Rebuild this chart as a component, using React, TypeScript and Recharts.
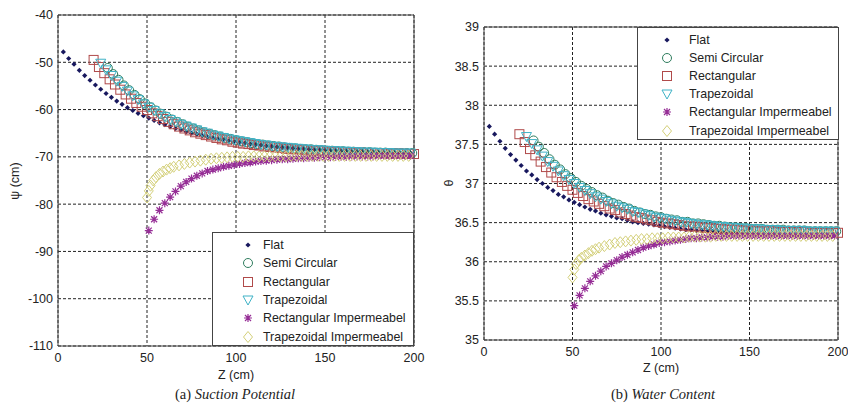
import React from "react";
import {
  CartesianGrid,
  ReferenceArea,
  Scatter,
  ScatterChart,
  XAxis,
  YAxis,
} from "recharts";

// Z positions (cm) of the points of every series
const flatZ = [
  3, 6, 9, 12, 15, 18, 21, 24, 27, 30, 33, 36, 39, 42, 45, 48, 51, 54, 57, 60,
  63, 66, 69, 72, 75, 78, 81, 84, 87, 90, 93, 96, 99, 102, 105, 108, 111, 114,
  117, 120, 123, 126, 129, 132, 135, 138, 141, 144, 147, 150, 153, 156, 159,
  162, 165, 168, 171, 174, 177, 180, 183, 186, 189, 192, 195, 198,
];
const semiZ = [
  28, 31, 34, 37, 40, 43, 46, 49, 52, 55, 58, 61, 64, 67, 70, 73, 76, 79, 82,
  85, 88, 91, 94, 97, 100, 103, 106, 109, 112, 115, 118, 121, 124, 127, 130,
  133, 136, 139, 142, 145, 148, 151, 154, 157, 160, 163, 166, 169, 172, 175,
  178, 181, 184, 187, 190, 193, 196, 199,
];
const rectZ = [
  20, 23, 26, 29, 32, 35, 38, 41, 44, 47, 50, 53, 56, 59, 62, 65, 68, 71, 74,
  77, 80, 83, 86, 89, 92, 95, 98, 101, 104, 107, 110, 113, 116, 119, 122, 125,
  128, 131, 134, 137, 140, 143, 146, 149, 152, 155, 158, 161, 164, 167, 170,
  173, 176, 179, 182, 185, 188, 191, 194, 197, 200,
];
const trapZ = [
  24, 27, 30, 33, 36, 39, 42, 45, 48, 51, 54, 57, 60, 63, 66, 69, 72, 75, 78,
  81, 84, 87, 90, 93, 96, 99, 102, 105, 108, 111, 114, 117, 120, 123, 126, 129,
  132, 135, 138, 141, 144, 147, 150, 153, 156, 159, 162, 165, 168, 171, 174,
  177, 180, 183, 186, 189, 192, 195, 198,
];
const rectImpZ = [
  51, 54, 57, 60, 63, 66, 69, 72, 75, 78, 81, 84, 87, 90, 93, 96, 99, 102, 105,
  108, 111, 114, 117, 120, 123, 126, 129, 132, 135, 138, 141, 144, 147, 150,
  153, 156, 159, 162, 165, 168, 171, 174, 177, 180, 183, 186, 189, 192, 195,
  198,
];
const trapImpZ = [
  50, 51, 52, 53.5, 55, 57, 59, 61, 63, 65, 68, 71, 74, 77, 80, 83, 86, 89, 92,
  95, 98, 101, 104, 107, 110, 113, 116, 119, 122, 125, 128, 131, 134, 137, 140,
  143, 146, 149, 152, 155, 158, 161, 164, 167, 170, 173, 176, 179, 182, 185,
  188, 191, 194, 197,
];

// (a) suction potential, psi (cm)
const flatPsi = [
  -47.8, -49.2, -50.4, -51.7, -52.8, -53.8, -54.8, -55.7, -56.6, -57.4, -58.2,
  -58.9, -59.6, -60.2, -60.8, -61.3, -61.8, -62.3, -62.8, -63.2, -63.6, -64.0,
  -64.3, -64.7, -65.0, -65.2, -65.5, -65.8, -66.0, -66.2, -66.4, -66.6, -66.8,
  -67.0, -67.1, -67.3, -67.4, -67.5, -67.7, -67.8, -67.9, -68.0, -68.1, -68.2,
  -68.3, -68.3, -68.4, -68.5, -68.5, -68.6, -68.7, -68.7, -68.8, -68.8, -68.9,
  -68.9, -68.9, -69.0, -69.0, -69.0, -69.1, -69.1, -69.1, -69.2, -69.2, -69.2,
];
const semiPsi = [
  -51.2, -52.5, -53.7, -54.9, -55.9, -56.9, -57.8, -58.7, -59.5, -60.2, -60.9,
  -61.5, -62.1, -62.6, -63.1, -63.6, -64.0, -64.4, -64.8, -65.1, -65.4, -65.7,
  -66.0, -66.2, -66.5, -66.7, -66.9, -67.1, -67.3, -67.4, -67.6, -67.7, -67.8,
  -68.0, -68.1, -68.2, -68.3, -68.4, -68.4, -68.5, -68.6, -68.7, -68.7, -68.8,
  -68.8, -68.9, -68.9, -69.0, -69.0, -69.0, -69.1, -69.1, -69.1, -69.2, -69.2,
  -69.2, -69.2, -69.2,
];
const rectPsi = [
  -49.5, -51.0, -52.3, -53.6, -54.7, -55.8, -56.8, -57.7, -58.6, -59.4, -60.1,
  -60.8, -61.4, -62.0, -62.6, -63.1, -63.6, -64.0, -64.4, -64.8, -65.1, -65.4,
  -65.7, -66.0, -66.3, -66.5, -66.8, -67.0, -67.2, -67.3, -67.5, -67.6, -67.8,
  -67.9, -68.0, -68.1, -68.3, -68.4, -68.4, -68.5, -68.6, -68.7, -68.7, -68.8,
  -68.9, -68.9, -69.0, -69.0, -69.1, -69.1, -69.1, -69.2, -69.2, -69.2, -69.2,
  -69.3, -69.3, -69.3, -69.3, -69.4, -69.4,
];
const trapPsi = [
  -50.2, -51.6, -52.8, -54.0, -55.1, -56.1, -57.1, -57.9, -58.8, -59.5, -60.2,
  -60.9, -61.5, -62.1, -62.6, -63.1, -63.5, -63.9, -64.3, -64.7, -65.0, -65.4,
  -65.6, -65.9, -66.2, -66.4, -66.6, -66.8, -67.0, -67.2, -67.4, -67.5, -67.7,
  -67.8, -67.9, -68.0, -68.1, -68.2, -68.3, -68.4, -68.5, -68.5, -68.6, -68.7,
  -68.7, -68.8, -68.8, -68.9, -68.9, -69.0, -69.0, -69.0, -69.1, -69.1, -69.1,
  -69.2, -69.2, -69.2, -69.2,
];
const rectImpPsi = [
  -85.6, -83.2, -81.3, -79.8, -78.5, -77.3, -76.2, -75.3, -74.6, -74.0, -73.5,
  -73.0, -72.7, -72.4, -72.1, -71.9, -71.7, -71.5, -71.3, -71.2, -71.0, -70.9,
  -70.8, -70.7, -70.6, -70.5, -70.5, -70.4, -70.3, -70.3, -70.2, -70.2, -70.1,
  -70.1, -70.1, -70.0, -70.0, -70.0, -69.9, -69.9, -69.9, -69.9, -69.9, -69.8,
  -69.8, -69.8, -69.8, -69.8, -69.8, -69.8,
];
const trapImpPsi = [
  -78.6, -77.2, -76.1, -75.0, -74.3, -73.6, -73.1, -72.7, -72.4, -72.1, -71.8,
  -71.5, -71.2, -71.0, -70.8, -70.6, -70.4, -70.3, -70.2, -70.1, -70.0, -70.0,
  -70.0, -69.9, -69.9, -69.9, -69.9, -69.9, -69.9, -69.9, -69.9, -69.8, -69.8,
  -69.8, -69.8, -69.8, -69.8, -69.8, -69.8, -69.8, -69.8, -69.8, -69.8, -69.8,
  -69.8, -69.8, -69.8, -69.8, -69.8, -69.8, -69.8, -69.8, -69.8, -69.8,
];

// (b) water content, theta
const flatTheta = [
  37.73, 37.63, 37.54, 37.45, 37.37, 37.3, 37.23, 37.16, 37.11, 37.05, 37.0,
  36.95, 36.91, 36.86, 36.83, 36.79, 36.76, 36.73, 36.7, 36.67, 36.65, 36.62,
  36.6, 36.58, 36.56, 36.55, 36.53, 36.51, 36.5, 36.49, 36.48, 36.47, 36.46,
  36.45, 36.44, 36.43, 36.42, 36.41, 36.41, 36.4, 36.4, 36.39, 36.39, 36.38,
  36.38, 36.37, 36.37, 36.37, 36.36, 36.36, 36.36, 36.35, 36.35, 36.35, 36.35,
  36.34, 36.34, 36.34, 36.34, 36.34, 36.34, 36.33, 36.33, 36.33, 36.33, 36.33,
];
const semiTheta = [
  37.55, 37.47, 37.39, 37.31, 37.24, 37.18, 37.12, 37.07, 37.02, 36.97, 36.93,
  36.89, 36.85, 36.82, 36.78, 36.75, 36.73, 36.7, 36.68, 36.65, 36.63, 36.61,
  36.6, 36.58, 36.57, 36.55, 36.54, 36.53, 36.51, 36.51, 36.49, 36.49, 36.48,
  36.47, 36.46, 36.46, 36.45, 36.44, 36.44, 36.43, 36.43, 36.42, 36.42, 36.42,
  36.41, 36.41, 36.41, 36.41, 36.4, 36.4, 36.4, 36.4, 36.39, 36.39, 36.39,
  36.39, 36.39, 36.39,
];
const rectTheta = [
  37.63, 37.53, 37.44, 37.36, 37.28, 37.21, 37.14, 37.08, 37.02, 36.97, 36.92,
  36.88, 36.84, 36.8, 36.77, 36.74, 36.71, 36.68, 36.66, 36.63, 36.61, 36.59,
  36.57, 36.56, 36.54, 36.53, 36.51, 36.5, 36.49, 36.48, 36.47, 36.46, 36.45,
  36.45, 36.44, 36.43, 36.43, 36.42, 36.42, 36.41, 36.41, 36.41, 36.4, 36.4,
  36.4, 36.39, 36.39, 36.39, 36.39, 36.38, 36.38, 36.38, 36.38, 36.38, 36.38,
  36.37, 36.37, 36.37, 36.37, 36.37, 36.37,
];
const trapTheta = [
  37.6, 37.51, 37.43, 37.35, 37.28, 37.22, 37.16, 37.1, 37.05, 37.0, 36.95,
  36.91, 36.87, 36.83, 36.8, 36.77, 36.74, 36.71, 36.69, 36.67, 36.64, 36.63,
  36.61, 36.59, 36.57, 36.56, 36.55, 36.53, 36.52, 36.51, 36.5, 36.49, 36.48,
  36.47, 36.47, 36.46, 36.45, 36.45, 36.44, 36.44, 36.43, 36.43, 36.42, 36.42,
  36.42, 36.41, 36.41, 36.41, 36.4, 36.4, 36.4, 36.4, 36.4, 36.39, 36.39,
  36.39, 36.39, 36.39, 36.39,
];
const rectImpTheta = [
  35.44, 35.57, 35.66, 35.75, 35.82, 35.88, 35.94, 35.98, 36.02, 36.06, 36.09,
  36.12, 36.15, 36.18, 36.2, 36.22, 36.24, 36.25, 36.26, 36.27, 36.28, 36.29,
  36.3, 36.3, 36.31, 36.31, 36.32, 36.32, 36.32, 36.33, 36.33, 36.33, 36.33,
  36.33, 36.33, 36.33, 36.33, 36.33, 36.33, 36.33, 36.33, 36.33, 36.33, 36.33,
  36.33, 36.33, 36.33, 36.33, 36.33, 36.33,
];
const trapImpTheta = [
  35.8, 35.9, 35.97, 36.02, 36.05, 36.08, 36.11, 36.14, 36.16, 36.18, 36.2,
  36.22, 36.24, 36.25, 36.26, 36.27, 36.28, 36.29, 36.29, 36.3, 36.3, 36.3,
  36.31, 36.31, 36.31, 36.31, 36.32, 36.32, 36.32, 36.32, 36.32, 36.33, 36.33,
  36.33, 36.33, 36.33, 36.33, 36.33, 36.33, 36.33, 36.33, 36.33, 36.33, 36.33,
  36.33, 36.33, 36.33, 36.33, 36.33, 36.33, 36.33, 36.33, 36.33, 36.33,
];

const zTicks = [0, 50, 100, 150, 200];
const psiTicks = [-110, -100, -90, -80, -70, -60, -50, -40];
const thetaTicks = [35, 35.5, 36, 36.5, 37, 37.5, 38, 38.5, 39];

const FONT = "'Liberation Sans', Arial, sans-serif";

const SERIES = [
  { name: "Flat", kind: "dot", color: "#18185e", z: flatZ, psi: flatPsi, theta: flatTheta },
  { name: "Semi Circular", kind: "circle", color: "#2f7d5e", z: semiZ, psi: semiPsi, theta: semiTheta },
  { name: "Rectangular", kind: "square", color: "#b04a4a", z: rectZ, psi: rectPsi, theta: rectTheta },
  { name: "Trapezoidal", kind: "tri", color: "#3fb2c6", z: trapZ, psi: trapPsi, theta: trapTheta },
  { name: "Rectangular Impermeabel", kind: "star", color: "#962e96", z: rectImpZ, psi: rectImpPsi, theta: rectImpTheta },
  { name: "Trapezoidal Impermeabel", kind: "diamond", color: "#d4d07a", z: trapImpZ, psi: trapImpPsi, theta: trapImpTheta },
];

const toPoints = (z: number[], v: number[]) => z.map((x, i) => ({ z: x, v: v[i] }));

function Marker({ kind, cx, cy, color }: any) {
  if (cx == null || cy == null) return null;
  switch (kind) {
    case "dot":
      return <path d={`M${cx},${cy - 2.6}L${cx + 2.6},${cy}L${cx},${cy + 2.6}L${cx - 2.6},${cy}Z`} fill={color} />;
    case "circle":
      return <circle cx={cx} cy={cy} r={4.5} fill="none" stroke={color} strokeWidth={1} />;
    case "square":
      return <rect x={cx - 4.5} y={cy - 4.5} width={9} height={9} fill="none" stroke={color} strokeWidth={1} />;
    case "tri":
      return <path d={`M${cx - 5},${cy - 4}L${cx + 5},${cy - 4}L${cx},${cy + 5}Z`} fill="none" stroke={color} strokeWidth={1} />;
    case "star":
      return (
        <path
          d={`M${cx - 4},${cy}L${cx + 4},${cy}M${cx},${cy - 4}L${cx},${cy + 4}M${cx - 3},${cy - 3}L${cx + 3},${cy + 3}M${cx - 3},${cy + 3}L${cx + 3},${cy - 3}`}
          stroke={color}
          strokeWidth={1.2}
        />
      );
    default:
      return <path d={`M${cx},${cy - 5.5}L${cx + 4.5},${cy}L${cx},${cy + 5.5}L${cx - 4.5},${cy}Z`} fill="none" stroke={color} strokeWidth={1} />;
  }
}

function LegendBox({ left, top, width, height, markerX, textX, firstY, step }: any) {
  return (
    <div
      style={{
        position: "absolute",
        left,
        top,
        width,
        height,
        boxSizing: "border-box",
        border: "1px solid #444",
        background: "#fff",
        fontFamily: FONT,
        fontSize: 12.4,
        color: "#222",
      }}
    >
      {SERIES.map((s, i) => (
        <div key={s.name} style={{ position: "absolute", left: 0, top: firstY + i * step - 8, height: 16, width: "100%" }}>
          <svg width={16} height={16} style={{ position: "absolute", left: markerX - 8, top: 0 }}>
            <Marker kind={s.kind} cx={8} cy={8} color={s.color} />
          </svg>
          <span style={{ position: "absolute", left: textX, top: 0, lineHeight: "16px", whiteSpace: "nowrap" }}>{s.name}</span>
        </div>
      ))}
    </div>
  );
}

function Panel({ width, margin, yWidth, domain, yTicks, field }: any) {
  return (
    <ScatterChart width={width} height={405} margin={margin}>
      <CartesianGrid stroke="#222" strokeDasharray="3 2" />
      <XAxis
        type="number"
        dataKey="z"
        domain={[0, 200]}
        ticks={zTicks}
        tickSize={0}
        tickMargin={7}
        height={20}
        axisLine={false}
        tick={{ fill: "#222", fontSize: 12.5, fontFamily: FONT }}
      />
      <YAxis
        type="number"
        dataKey="v"
        domain={domain}
        ticks={yTicks}
        width={yWidth}
        tickSize={0}
        tickMargin={5}
        axisLine={false}
        tick={{ fill: "#222", fontSize: 12.5, fontFamily: FONT }}
      />
      {SERIES.map((s) => (
        <Scatter
          key={s.name}
          name={s.name}
          data={toPoints(s.z, s[field])}
          isAnimationActive={false}
          shape={(p: any) => <Marker kind={s.kind} cx={p.cx} cy={p.cy} color={s.color} />}
        />
      ))}
      <ReferenceArea
        x1={0}
        x2={200}
        y1={domain[0]}
        y2={domain[1]}
        fill="none"
        stroke="#444"
        strokeWidth={1}
        ifOverflow="visible"
      />
    </ScatterChart>
  );
}

const textStyle: React.CSSProperties = {
  position: "absolute",
  fontFamily: FONT,
  fontSize: 12.5,
  color: "#222",
  whiteSpace: "nowrap",
  lineHeight: "14px",
};

const captionStyle: React.CSSProperties = {
  position: "absolute",
  fontFamily: "'Liberation Serif', 'DejaVu Serif', serif",
  fontSize: 14.5,
  color: "#222",
  whiteSpace: "nowrap",
  lineHeight: "16px",
  transform: "translateX(-50%)",
};

export default function App() {
  return (
    <div style={{ position: "absolute", left: 0, top: 0, width: 848, height: 405, background: "#fff", overflow: "hidden" }}>
      <div style={{ position: "absolute", left: 0, top: 0 }}>
        <Panel width={430} margin={{ top: 15, right: 16, bottom: 39, left: 0 }} yWidth={58} domain={[-110, -40]} yTicks={psiTicks} field="psi" />
      </div>
      <div style={{ position: "absolute", left: 430, top: 0 }}>
        <Panel width={418} margin={{ top: 27, right: 10, bottom: 45, left: 0 }} yWidth={54} domain={[35, 39]} yTicks={thetaTicks} field="theta" />
      </div>

      <LegendBox left={212} top={232} width={202} height={114} markerX={35} textX={50} firstY={12} step={18.3} />
      <LegendBox left={637} top={27} width={202} height={113} markerX={29} textX={51} firstY={11.5} step={18.2} />

      <div style={{ ...textStyle, left: 15, top: 181, transform: "translate(-50%, -50%) rotate(-90deg)" }}>ψ (cm)</div>
      <div style={{ ...textStyle, left: 449, top: 183, transform: "translate(-50%, -50%) rotate(-90deg)" }}>θ</div>

      <div style={{ ...textStyle, left: 236, top: 368, transform: "translateX(-50%)" }}>Z (cm)</div>
      <div style={{ ...textStyle, left: 661, top: 361, transform: "translateX(-50%)" }}>Z (cm)</div>

      <div style={{ ...captionStyle, left: 235, top: 386 }}>
        (a) <i>Suction Potential</i>
      </div>
      <div style={{ ...captionStyle, left: 663, top: 386 }}>
        (b) <i>Water Content</i>
      </div>
    </div>
  );
}
